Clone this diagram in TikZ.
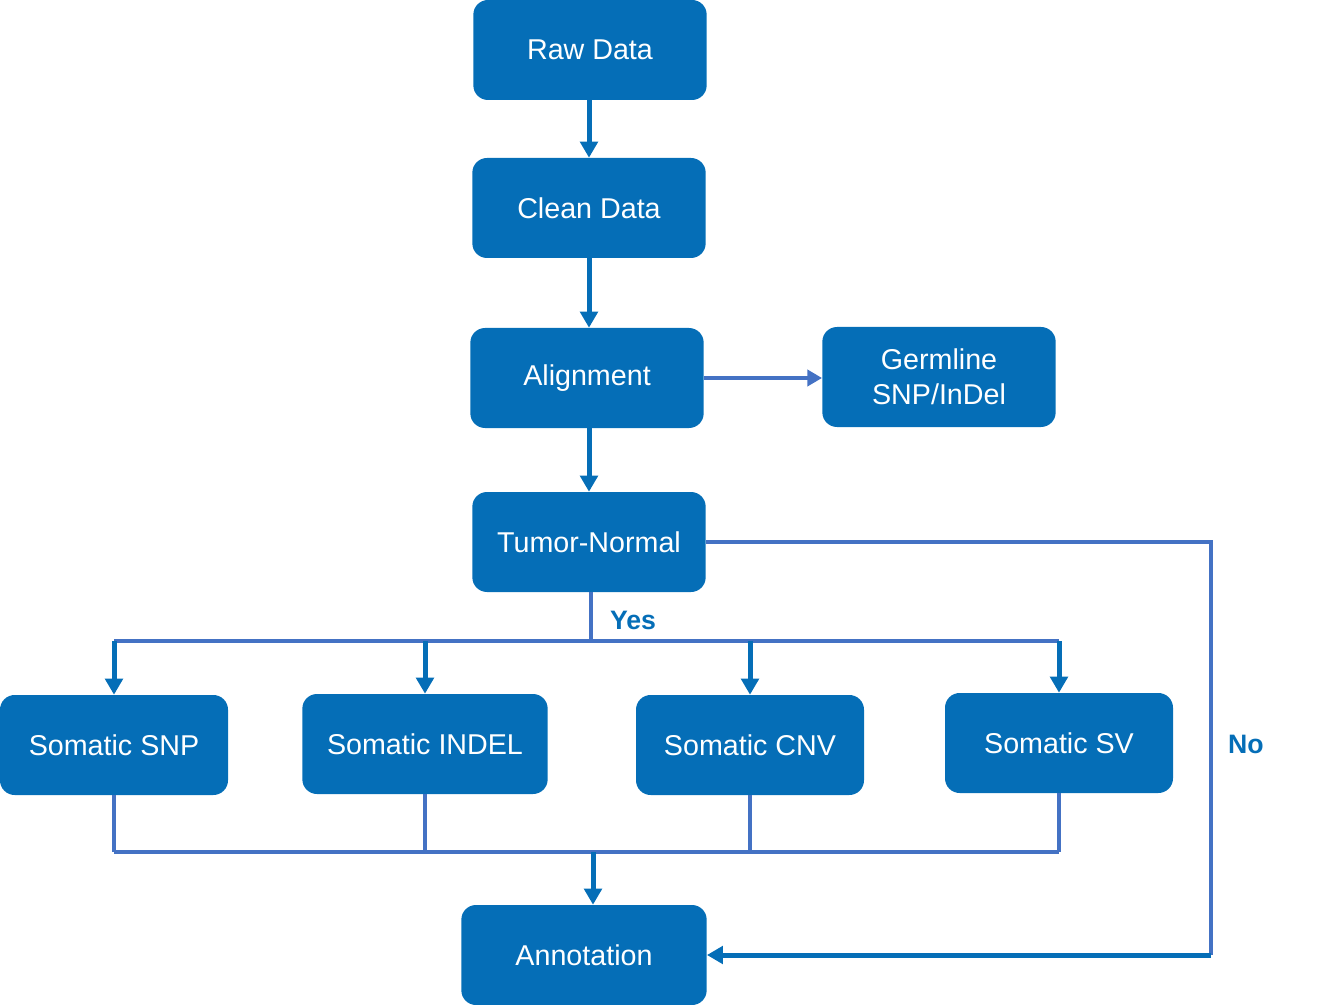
\documentclass[tikz,border=0pt]{standalone}
\usepackage{fontspec}
\setmainfont{Liberation Sans}
\usetikzlibrary{arrows.meta}
\definecolor{boxblue}{RGB}{5,110,183}
\definecolor{lineblue}{RGB}{68,114,196}

\begin{document}
\begin{tikzpicture}[x=0.75pt,y=-0.75pt,
  stage/.style={rectangle,rounded corners=11pt,fill=boxblue,text=white,
    minimum height=75pt,inner sep=0pt,align=center,
    font=\fontsize{21.5}{26}\selectfont},
  flow/.style={draw=boxblue,line width=3.75pt,-{Triangle[width=13pt,length=12pt]}},
  link/.style={draw=lineblue,line width=3.5pt},
  answer/.style={text=boxblue,font=\fontsize{20}{24}\selectfont\bfseries}]
  \useasboundingbox (0,0) rectangle (1331,1005);
  % main column
  \node[stage,minimum width=175pt] (raw) at (590,50) {Raw Data};
  \node[stage,minimum width=175pt] (clean) at (589,208) {Clean Data};
  \node[stage,minimum width=175pt] (align) at (587,378) {Alignment};
  \node[stage,minimum width=175pt] (germ) at (939,377) {Germline\\SNP/InDel};
  \node[stage,minimum width=175pt] (tn) at (589,542) {Tumor-Normal};
  % somatic calls
  \node[stage,minimum width=171pt] (snp) at (114,745) {Somatic SNP};
  \node[stage,minimum width=184pt] (indel) at (425,744) {Somatic INDEL};
  \node[stage,minimum width=171pt] (cnv) at (750,745) {Somatic CNV};
  \node[stage,minimum width=171pt] (sv) at (1059,743) {Somatic SV};
  \node[stage,minimum width=184pt] (anno) at (584,955) {Annotation};
  \draw[flow] (raw.south -| clean) -- (clean);
  \draw[flow] (clean) -- (clean |- align.north);
  \draw[flow] (align.south -| tn) -- (tn);
  \draw[link,-{Triangle[width=12pt,length=11pt]}] (align) -- (align -| germ.west);
  % yes branch
  \coordinate (split) at (591,641);
  \draw[link] (tn.south -| split) -- (split);
  \draw[link] (split -| snp) -- (split -| sv);
  \foreach \s in {snp,indel,cnv,sv}
    \draw[flow] (split -| \s) -- (\s.north);
  \node[answer] (yes) at (633,620) {Yes};
  % merge
  \coordinate (merge) at (593,852);
  \foreach \s in {snp,indel,cnv,sv}
    \draw[link] (\s.south) -- (merge -| \s);
  \draw[link] (merge -| snp) -- (merge -| sv);
  \draw[flow] (merge) -- (merge |- anno.north);
  % no branch
  \coordinate (turn) at (1211,955);
  \draw[link] (tn.east) -| (turn);
  \draw[flow] (turn) -- (anno.east);
  \node[answer] (no) at (1246,744) {No};
\end{tikzpicture}
\end{document}
